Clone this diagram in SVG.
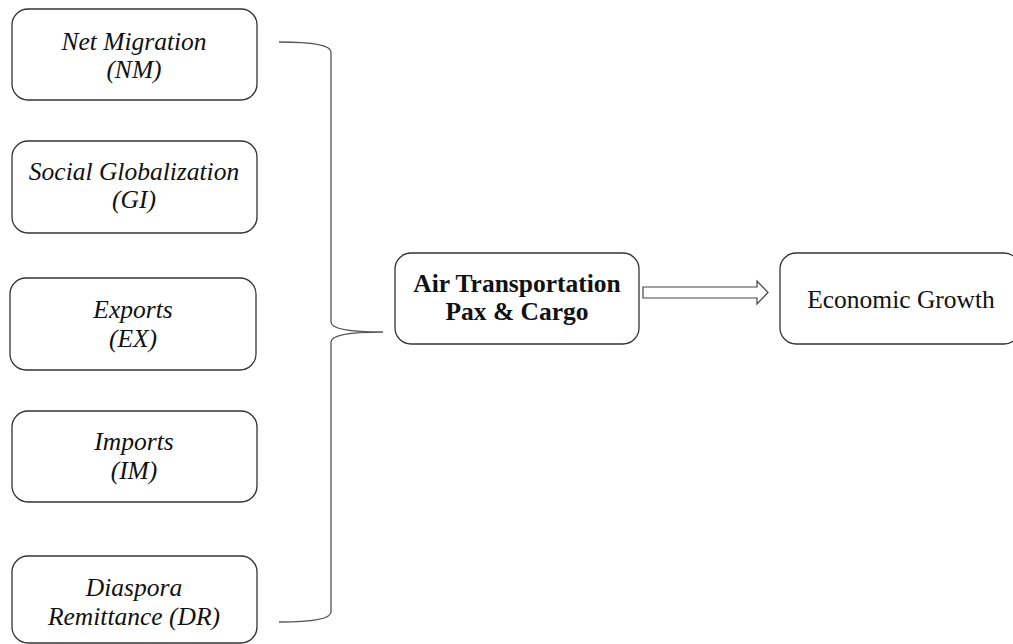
<svg xmlns="http://www.w3.org/2000/svg" width="1013" height="644" viewBox="0 0 1013 644">
<style>
.box{fill:#fff;stroke:#333;stroke-width:1.3}
.it{font-family:"Liberation Serif",serif;font-style:italic;font-size:25.5px;fill:#111;text-anchor:middle}
.bd{font-family:"Liberation Serif",serif;font-weight:bold;font-size:25.5px;fill:#111;text-anchor:middle}
.rg{font-family:"Liberation Serif",serif;font-size:25.5px;fill:#111;text-anchor:middle}
.ln{fill:none;stroke:#555;stroke-width:1.3}
</style>
<rect width="1013" height="644" fill="#fff"/>
<g id="nm"><rect class="box" x="12" y="9" width="245" height="91" rx="16"/><text class="it" x="134" y="50">Net Migration</text><text class="it" x="134" y="78">(NM)</text></g>
<g id="gi"><rect class="box" x="12" y="141" width="245" height="92" rx="16"/><text class="it" x="134" y="180">Social Globalization</text><text class="it" x="134" y="208">(GI)</text></g>
<g id="ex"><rect class="box" x="10" y="278" width="246" height="92" rx="16"/><text class="it" x="133" y="318">Exports</text><text class="it" x="133" y="347">(EX)</text></g>
<g id="im"><rect class="box" x="12" y="411" width="245" height="91" rx="16"/><text class="it" x="134" y="450">Imports</text><text class="it" x="134" y="479">(IM)</text></g>
<g id="dr"><rect class="box" x="12" y="556" width="245" height="87" rx="16"/><text class="it" x="134" y="596">Diaspora</text><text class="it" x="134" y="625">Remittance (DR)</text></g>
<g id="air"><rect class="box" x="395" y="253" width="244" height="91" rx="16"/><text class="bd" x="517" y="292">Air Transportation</text><text class="bd" x="517" y="320">Pax &amp; Cargo</text></g>
<g id="eg"><rect class="box" x="780" y="253" width="240" height="91" rx="16"/><text class="rg" x="901" y="308">Economic Growth</text></g>
<g id="connectors">
<path class="ln" d="M279,42 Q331,42 331,52 L331,322 Q331,332 383,332 Q331,332 331,342 L331,612 Q331,622 279,622"/>
<path fill="#fff" stroke="#444" stroke-width="1.2" d="M643,287 L757,287 L757,281 L768,292.5 L757,304 L757,298 L643,298 Z"/>
</g>
</svg>
